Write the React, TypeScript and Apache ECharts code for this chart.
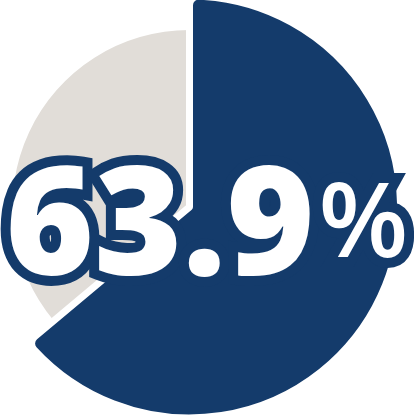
import React, { useEffect, useRef } from 'react';
import * as echarts from 'echarts';

// pie values (percent)
const categories = ['Share', 'Remainder'];
const values = [63.9, 36.1];
const colors = ['#143b6b', '#e1ddd8'];

// big centre label
const mainLabel = '63.9';
const unitLabel = '%';

const App: React.FC = () => {
  const chartRef = useRef<HTMLDivElement>(null);

  useEffect(() => {
    if (!chartRef.current) return;
    const chart = echarts.init(chartRef.current, null, { renderer: 'svg' });

    const navy = colors[0];
    const center = [189.5, 207];

    // same rich layout used twice: outline layer underneath, white fill on top
    const richFor = (fill: string, border: number) => ({
      a: {
        fontFamily: 'Open Sans',
        fontWeight: 800,
        fontSize: 151,
        lineHeight: 150,
        color: fill,
        textBorderColor: border ? navy : 'transparent',
        textBorderWidth: border
      },
      b: {
        fontFamily: 'Open Sans',
        fontWeight: 600,
        fontSize: 104,
        lineHeight: 150,
        padding: [0, 0, 0, 4],
        color: fill,
        textBorderColor: border ? navy : 'transparent',
        textBorderWidth: border
      }
    });

    const labelTitle = (fill: string, border: number) => ({
      text: `{a|${mainLabel}}{b|${unitLabel}}`,
      left: 'center',
      top: 141,
      padding: 0,
      textStyle: { rich: richFor(fill, border) }
    });

    const option = {
      animation: false,
      backgroundColor: '#fff',
      title: [labelTitle(navy, 20), labelTitle('#fff', 0)],
      series: [
        {
          // smaller grey slice (remainder)
          type: 'pie',
          center,
          radius: 177,
          startAngle: 90,
          clockwise: true,
          silent: true,
          label: { show: false },
          labelLine: { show: false },
          emphasis: { disabled: true },
          data: [
            { name: categories[0], value: values[0], itemStyle: { color: 'rgba(0,0,0,0)' } },
            { name: categories[1], value: values[1], itemStyle: { color: colors[1] } }
          ]
        },
        {
          // larger navy slice (share), white border makes the gap
          type: 'pie',
          center,
          radius: 211,
          startAngle: 90,
          clockwise: true,
          silent: true,
          label: { show: false },
          labelLine: { show: false },
          emphasis: { disabled: true },
          data: [
            {
              name: categories[0],
              value: values[0],
              itemStyle: { color: navy, borderColor: '#fff', borderWidth: 7, borderRadius: 9 }
            },
            {
              name: categories[1],
              value: values[1],
              itemStyle: { color: 'rgba(0,0,0,0)', borderWidth: 0 }
            }
          ]
        }
      ]
    };

    chart.setOption(option);

    return () => {
      chart.dispose();
    };
  }, []);

  return (
    <div
      ref={chartRef}
      style={{ position: 'fixed', left: 0, top: 0, width: 414, height: 417, background: '#fff' }}
    />
  );
};

export default App;
